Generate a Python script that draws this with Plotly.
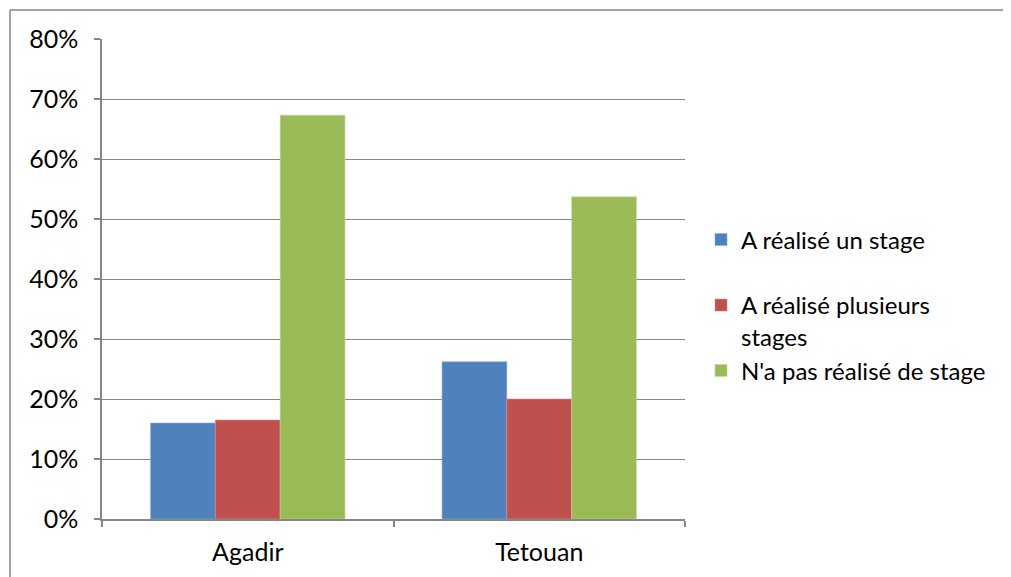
import plotly.graph_objects as go

categories = ["Agadir", "Tetouan"]
series_names = ["A réalisé un stage<br> ", "A réalisé plusieurs<br>stages", "N'a pas réalisé de stage"]
un_stage = [0.16, 0.262]
plusieurs = [0.165, 0.20]
pas_stage = [0.673, 0.537]
colors = ["#4F81BD", "#C0504D", "#9BBB59"]
edge_colors = ["#8FB0DA", "#D98C8A", "#C3D99B"]
tick_vals = [0, 0.1, 0.2, 0.3, 0.4, 0.5, 0.6, 0.7, 0.8]
tick_text = ["0%", "10%", "20%", "30%", "40%", "50%", "60%", "70%", "80%"]

FONT = "Lato"
FS = 25
LFS = 24
OFF = 8  # page body margin offset
W, H = 1011, 577
ML, MT = 102 - OFF, 39 - OFF
PR, PB = 685 - OFF, 519 - OFF
MR, MB = W - PR, H - PB

fig = go.Figure()
for name, vals, c, ec in zip(series_names, [un_stage, plusieurs, pas_stage], colors, edge_colors):
    fig.add_trace(go.Bar(x=categories, y=vals, name=name, marker_color=c,
                         marker_line=dict(color=ec, width=0.6)))

pw = W - ML - MR
ph = H - MT - MB
def px_x(x):
    return (x - OFF - ML) / pw
def px_y(y):
    return (H - MB - (y - OFF)) / ph

# outer chart border (top and left)
fig.add_shape(type="line", xref="paper", yref="paper", x0=px_x(10), x1=px_x(1030), y0=px_y(10), y1=px_y(10),
              line=dict(color="#868686", width=1.5))
fig.add_shape(type="line", xref="paper", yref="paper", x0=px_x(10), x1=px_x(10), y0=px_y(10), y1=px_y(600),
              line=dict(color="#868686", width=1.5))

fig.update_layout(
    width=W, height=H,
    margin=dict(l=ML, r=MR, t=MT, b=MB, pad=0),
    paper_bgcolor="white", plot_bgcolor="white",
    barmode="group", bargap=0.333, bargroupgap=0,
    font=dict(family=FONT, size=FS, color="black"),
    showlegend=True,
    legend=dict(x=px_x(701), xanchor="left", y=px_y(305), yanchor="middle",
                font=dict(family=FONT, size=LFS, color="black"),
                valign="top", tracegroupgap=0, bgcolor="rgba(0,0,0,0)"),
    xaxis=dict(showline=True, linecolor="#868686", linewidth=1.5,
               ticks="outside", tickson="boundaries", ticklen=6, tickcolor="#868686", tickwidth=1.5,
               showgrid=False, tickfont=dict(family=FONT, size=FS), ticklabelstandoff=10),
    yaxis=dict(range=[0, 0.8], tickvals=tick_vals, ticktext=tick_text,
               showline=True, linecolor="#868686", linewidth=1.5,
               ticks="outside", ticklen=6, tickcolor="#868686", tickwidth=1.5,
               showgrid=True, gridcolor="#868686", gridwidth=1.3, zeroline=False,
               tickfont=dict(family=FONT, size=FS), ticklabelstandoff=11),
)

fig.write_html("out.html")
